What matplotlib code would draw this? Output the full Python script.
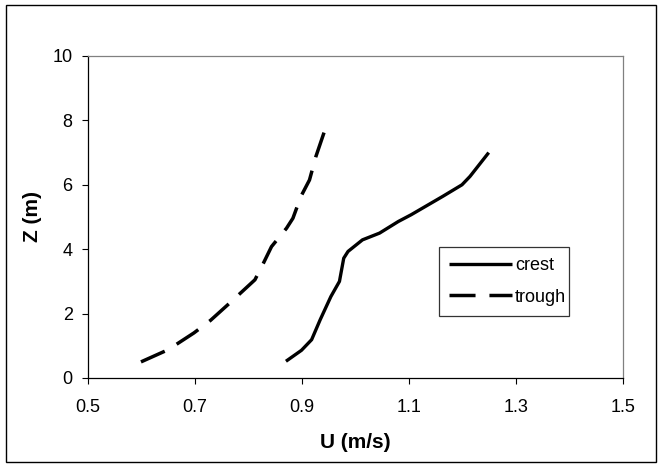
import matplotlib
matplotlib.use("Agg")
import matplotlib.pyplot as plt
from matplotlib.patches import Rectangle

plt.rcParams['font.family'] = ['Liberation Sans', 'DejaVu Sans']

crest_u = [0.870, 0.899, 0.918, 0.934, 0.954, 0.970, 0.978, 0.986, 1.013, 1.045, 1.080, 1.104, 1.163, 1.199, 1.214, 1.249]
crest_z = [0.52, 0.86, 1.19, 1.81, 2.53, 3.00, 3.72, 3.93, 4.29, 4.50, 4.86, 5.07, 5.64, 6.00, 6.26, 7.00]

trough_u = [0.599, 0.650, 0.698, 0.729, 0.765, 0.812, 0.828, 0.843, 0.871, 0.883, 0.898, 0.914, 0.926, 0.944]
trough_z = [0.50, 0.88, 1.40, 1.79, 2.33, 3.05, 3.57, 4.08, 4.65, 4.96, 5.64, 6.15, 6.88, 7.76]

x_ticks = [0.5, 0.7, 0.9, 1.1, 1.3, 1.5]
y_ticks = [0, 2, 4, 6, 8, 10]

W, H = 661, 466
fig = plt.figure(figsize=(W / 100, H / 100), dpi=100)
fig.patches.append(Rectangle((6 / W, 4 / H), 650 / W, 457 / H, transform=fig.transFigure,
                             fill=False, edgecolor='black', linewidth=1.0))
ax = fig.add_axes([88 / W, 1 - 378 / H, 535 / W, 322 / H])

ax.plot(crest_u, crest_z, color='black', linewidth=2.4, label='crest', solid_capstyle='butt')
ax.plot(trough_u, trough_z, color='black', linewidth=2.5, label='trough',
        dashes=(7.5, 4.0), dash_capstyle='butt')

ax.set_xlim(0.5, 1.5)
ax.set_ylim(0, 10)
ax.set_xticks(x_ticks)
ax.set_xticklabels([f"{v:.1f}" for v in x_ticks])
ax.set_yticks(y_ticks)
ax.set_yticklabels([str(v) for v in y_ticks])
ax.tick_params(direction='out', length=4, width=0.8, labelsize=13, colors='black')
ax.tick_params(axis='x', pad=11)
ax.tick_params(axis='y', pad=7)

for s in ['left', 'bottom']:
    ax.spines[s].set_color('black')
    ax.spines[s].set_linewidth(0.9)
for s in ['top', 'right']:
    ax.spines[s].set_color('#808080')
    ax.spines[s].set_linewidth(0.9)

ax.set_xlabel('U (m/s)', fontsize=15, fontweight='bold', va='center')
ax.xaxis.set_label_coords(0.5, -(443 - 378) / 322)
ax.set_ylabel('Z (m)', fontsize=15, fontweight='bold', va='center')
ax.yaxis.set_label_coords(-(88 - 33) / 535, 0.5)

leg = ax.legend(loc='upper left', bbox_to_anchor=(439 / W, 1 - 247 / H, 130 / W, 0.0),
                bbox_transform=fig.transFigure, mode='expand', frameon=True, fancybox=False,
                fontsize=13, handlelength=3.5, handletextpad=0.15, borderpad=0.55,
                labelspacing=0.82, borderaxespad=0)
leg.get_frame().set_edgecolor('black')
leg.get_frame().set_linewidth(0.9)

fig.savefig('out.png', dpi=100)
